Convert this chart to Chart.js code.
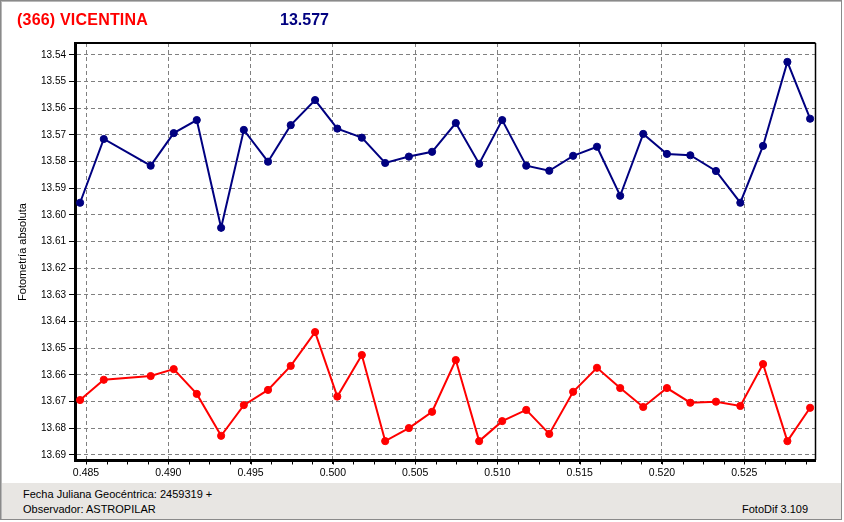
<!DOCTYPE html>
<html>
<head>
<meta charset="utf-8">
<script src="https://cdn.jsdelivr.net/npm/chart.js@4"></script>
<style>
html,body{margin:0;padding:0;background:#fff;width:844px;height:522px;overflow:hidden;font-family:"Liberation Sans",Arial,sans-serif;}
#wrap{position:absolute;left:0;top:0;width:844px;height:483px;}
#footer{position:absolute;left:0;top:483px;width:842px;height:37px;background:#e8e6e3;}
#frame{position:absolute;left:0;top:0;width:840px;height:518px;border:1px solid #8a8a8a;box-shadow:inset 1px 1px 0 #b8b8b8;pointer-events:none;}
.t{position:absolute;white-space:nowrap;}
#name{left:17px;top:11px;font-size:16px;line-height:18px;font-weight:bold;color:#ff0000;letter-spacing:0.2px;}
#mag{left:280px;top:11px;font-size:16px;line-height:18px;font-weight:bold;color:#000080;}
#ytitle{left:22px;top:252px;font-size:11px;line-height:13px;color:#000;transform:translate(-50%,-50%) rotate(-90deg);}
.f{font-size:11px;line-height:13px;color:#000;}
</style>
</head>
<body>
<div id="wrap"><canvas id="c" width="844" height="483"></canvas></div>
<div id="footer"></div>
<div class="t" id="name">(366) VICENTINA</div>
<div class="t" id="mag">13.577</div>
<div class="t" id="ytitle">Fotometría absoluta</div>
<div class="t f" style="left:23px;top:488px;">Fecha Juliana Geocéntrica: 2459319 +</div>
<div class="t f" style="left:23px;top:503px;">Observador: ASTROPILAR</div>
<div class="t f" style="left:742px;top:503px;">FotoDif 3.109</div>
<div id="frame"></div>
<script>
// Julian date fraction (x) for each observation
const jdFrac = [0.48464,0.48608,0.48893,0.49033,0.49173,0.49321,0.49459,0.49606,0.49744,0.49892,
  0.50027,0.50176,0.50318,0.50462,0.50603,0.50747,0.50889,0.51029,0.51175,0.51315,
  0.51460,0.51605,0.51746,0.51886,0.52030,0.52172,0.52328,0.52476,0.52614,0.52762,0.52900];
// Blue series (target)
const blueMag = [13.5954,13.5715,13.5815,13.5693,13.5644,13.6048,13.5681,13.5800,13.5663,13.5569,
  13.5676,13.5710,13.5805,13.5781,13.5763,13.5655,13.5808,13.5644,13.5815,13.5834,
  13.5778,13.5744,13.5928,13.5696,13.5771,13.5776,13.5835,13.5954,13.5741,13.5426,13.5639];
// Red series
const redMag = [13.6694,13.6618,13.6604,13.6578,13.6671,13.6828,13.6713,13.6656,13.6566,13.6439,
  13.6681,13.6525,13.6848,13.6799,13.6738,13.6544,13.6848,13.6773,13.6731,13.6821,
  13.6663,13.6573,13.6649,13.6720,13.6649,13.6704,13.6700,13.6716,13.6559,13.6848,13.6723];
// Tick labels
const xTicks = [0.485,0.490,0.495,0.500,0.505,0.510,0.515,0.520,0.525];
const yTicks = [13.54,13.55,13.56,13.57,13.58,13.59,13.60,13.61,13.62,13.63,13.64,13.65,13.66,13.67,13.68,13.69];
const xMinorStep = 0.00125;

const toPts = (ys) => ys.map((y, i) => ({x: jdFrac[i], y: y}));

const framePlugin = {
  id: 'framePlugin',
  afterDraw(chart) {
    const {ctx, chartArea: a, scales: {x}} = chart;
    ctx.save();
    ctx.strokeStyle = '#000';
    ctx.lineWidth = 2;
    ctx.beginPath();
    ctx.moveTo(a.left, a.top); ctx.lineTo(a.right, a.top);
    ctx.stroke();
    ctx.lineWidth = 1.5;
    ctx.beginPath();
    ctx.moveTo(a.right, a.top); ctx.lineTo(a.right, a.bottom);
    ctx.stroke();
    // minor ticks on x axis
    ctx.lineWidth = 1;
    ctx.beginPath();
    const start = Math.ceil(x.min / xMinorStep);
    const end = Math.floor(x.max / xMinorStep);
    for (let k = start; k <= end; k++) {
      const px = Math.round(x.getPixelForValue(k * xMinorStep)) + 0.5;
      ctx.moveTo(px, a.bottom + 1.5);
      ctx.lineTo(px, a.bottom + 4.5);
    }
    ctx.stroke();
    ctx.restore();
  }
};

new Chart(document.getElementById('c'), {
  type: 'line',
  data: {
    datasets: [
      {data: toPts(blueMag), borderColor: '#000080', backgroundColor: '#000080', borderWidth: 2,
       pointRadius: 3.6, pointBorderWidth: 1, pointBackgroundColor: '#000080', pointBorderColor: '#000080', tension: 0},
      {data: toPts(redMag), borderColor: '#ff0000', backgroundColor: '#ff0000', borderWidth: 2,
       pointRadius: 3.6, pointBorderWidth: 1, pointBackgroundColor: '#ff0000', pointBorderColor: '#ff0000', tension: 0}
    ]
  },
  options: {
    responsive: false,
    animation: false,
    events: [],
    layout: {padding: {left: 0, top: 43, right: 28.5, bottom: 0}},
    plugins: {legend: {display: false}, tooltip: {enabled: false}, title: {display: false}},
    scales: {
      x: {
        type: 'linear',
        min: 0.484331, max: 0.529328,
        afterBuildTicks: (s) => { s.ticks = xTicks.map(v => ({value: v})); },
        afterFit: (s) => { s.height = 23; },
        ticks: {color: '#000', font: {family: 'Liberation Sans', size: 10.5}, padding: 3, maxRotation: 0,
                callback: (v) => Number(v).toFixed(3)},
        grid: {color: '#808080', lineWidth: 1, tickLength: 4, tickColor: '#000', tickWidth: 1, drawTicks: true},
        border: {display: true, color: '#000', width: 3, dash: [4, 3]}
      },
      y: {
        type: 'linear',
        reverse: true,
        min: 13.5355, max: 13.69188,
        afterBuildTicks: (s) => { s.ticks = yTicks.map(v => ({value: v})); },
        afterFit: (s) => { s.width = 75; },
        ticks: {color: '#000', font: {family: 'Liberation Sans', size: 10}, padding: 3,
                callback: (v) => Number(v).toFixed(2)},
        grid: {color: '#808080', lineWidth: 1, tickLength: 6, tickColor: '#000', tickWidth: 1, drawTicks: true},
        border: {display: true, color: '#000', width: 3, dash: [4, 3]}
      }
    }
  },
  plugins: [framePlugin]
});
</script>
</body>
</html>
